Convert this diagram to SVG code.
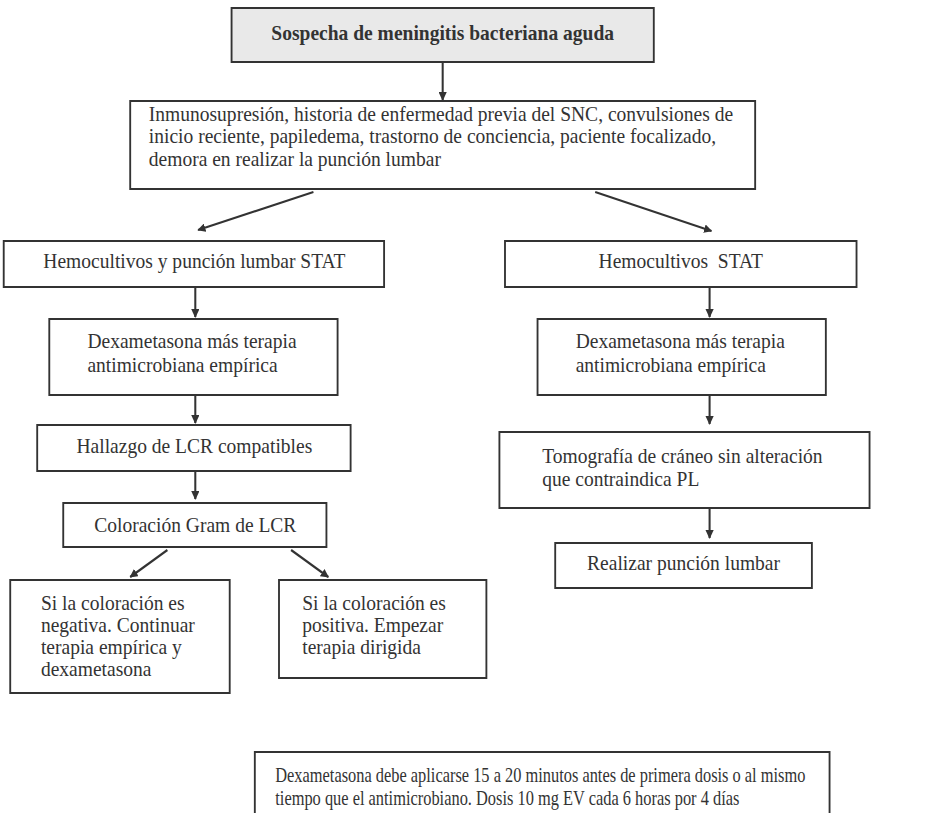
<svg xmlns="http://www.w3.org/2000/svg" width="936" height="813" viewBox="0 0 936 813">
  <defs>
    <style>
      .box { fill: #ffffff; stroke: #333333; stroke-width: 2; }
      .head { fill: #e9e9e9; stroke: #333333; stroke-width: 2; }
      .t { font-family: "Liberation Serif", "Times New Roman", serif; font-size: 21px; fill: #333333; }
      .c { text-anchor: middle; }
      .b { font-weight: bold; }
      .note { font-family: "Liberation Serif", "Times New Roman", serif; font-size: 21px; fill: #333333; }
      .link { stroke: #333333; stroke-width: 2.2; fill: none; marker-end: url(#arrow); }
    </style>
    <marker id="arrow" viewBox="0 0 10 10" refX="9" refY="5" markerWidth="4" markerHeight="4" orient="auto" markerUnits="strokeWidth">
      <path d="M0,0 L10,5 L0,10 z" fill="#333333"/>
    </marker>
  </defs>

  <!-- whole chart drawn on a slightly narrowed horizontal scale -->
  <g transform="scale(0.93,1)">

  <!-- connectors -->
  <g id="connectors">
    <line class="link" x1="476" y1="62" x2="476" y2="100"/>
    <line class="link" x1="337" y1="192" x2="213" y2="230"/>
    <line class="link" x1="640" y1="192" x2="765" y2="231"/>
    <line class="link" x1="210" y1="287" x2="210" y2="317"/>
    <line class="link" x1="210" y1="395" x2="210" y2="423"/>
    <line class="link" x1="210" y1="471" x2="210" y2="499"/>
    <line class="link" x1="180" y1="550" x2="140" y2="577"/>
    <line class="link" x1="313" y1="550" x2="353" y2="577"/>
    <line class="link" x1="763" y1="287" x2="763" y2="317"/>
    <line class="link" x1="763" y1="395" x2="763" y2="424"/>
    <line class="link" x1="763" y1="508" x2="763" y2="538"/>
  </g>

  <!-- start -->
  <g id="n-sospecha">
    <rect class="head" x="249" y="8" width="454" height="54"/>
    <text class="t c b" x="476" y="40">Sospecha de meningitis bacteriana aguda</text>
  </g>

  <g id="n-factores">
    <rect class="box" x="140" y="101" width="672" height="88"/>
    <text class="t" x="160" y="121">Inmunosupresión, historia de enfermedad previa del SNC, convulsiones de</text>
    <text class="t" x="160" y="143.5">inicio reciente, papiledema, trastorno de conciencia, paciente focalizado,</text>
    <text class="t" x="160" y="166">demora en realizar la punción lumbar</text>
  </g>

  <!-- left branch -->
  <g id="n-hemo-pl">
    <rect class="box" x="4" y="241" width="409" height="46"/>
    <text class="t c" x="209" y="268">Hemocultivos y punción lumbar STAT</text>
  </g>

  <g id="n-dexa-izq">
    <rect class="box" x="53" y="319" width="310" height="76"/>
    <text class="t" x="94" y="348">Dexametasona más terapia</text>
    <text class="t" x="94" y="372">antimicrobiana empírica</text>
  </g>

  <g id="n-lcr">
    <rect class="box" x="40" y="425" width="337" height="46"/>
    <text class="t c" x="209" y="453">Hallazgo de LCR compatibles</text>
  </g>

  <g id="n-gram">
    <rect class="box" x="68" y="503" width="283" height="44"/>
    <text class="t c" x="210" y="532">Coloración Gram de LCR</text>
  </g>

  <g id="n-negativa">
    <rect class="box" x="11" y="580" width="236" height="113"/>
    <text class="t" x="44" y="610">Si la coloración es</text>
    <text class="t" x="44" y="632">negativa. Continuar</text>
    <text class="t" x="44" y="654">terapia empírica y</text>
    <text class="t" x="44" y="676">dexametasona</text>
  </g>

  <g id="n-positiva">
    <rect class="box" x="300" y="580" width="223" height="98"/>
    <text class="t" x="325" y="610">Si la coloración es</text>
    <text class="t" x="325" y="632">positiva. Empezar</text>
    <text class="t" x="325" y="654">terapia dirigida</text>
  </g>

  <!-- right branch -->
  <g id="n-hemo">
    <rect class="box" x="543" y="241" width="378" height="46"/>
    <text class="t c" x="732" y="268" xml:space="preserve">Hemocultivos  STAT</text>
  </g>

  <g id="n-dexa-der">
    <rect class="box" x="578" y="319" width="310" height="76"/>
    <text class="t" x="619" y="348">Dexametasona más terapia</text>
    <text class="t" x="619" y="372">antimicrobiana empírica</text>
  </g>

  <g id="n-tac">
    <rect class="box" x="537" y="432" width="398" height="76"/>
    <text class="t" x="583" y="463">Tomografía de cráneo sin alteración</text>
    <text class="t" x="583" y="486">que contraindica PL</text>
  </g>

  <g id="n-pl">
    <rect class="box" x="597" y="543" width="276" height="45"/>
    <text class="t c" x="735" y="570">Realizar punción lumbar</text>
  </g>

  <!-- dosing note -->
  <g id="n-nota">
    <rect class="box" x="274" y="752" width="618" height="90"/>
    <text class="note" x="296" y="782" textLength="570" lengthAdjust="spacingAndGlyphs">Dexametasona debe aplicarse 15 a 20 minutos antes de primera dosis o al mismo</text>
    <text class="note" x="296" y="805" textLength="499" lengthAdjust="spacingAndGlyphs">tiempo que el antimicrobiano. Dosis 10 mg EV cada 6 horas por 4 días</text>
  </g>

  </g>
</svg>
